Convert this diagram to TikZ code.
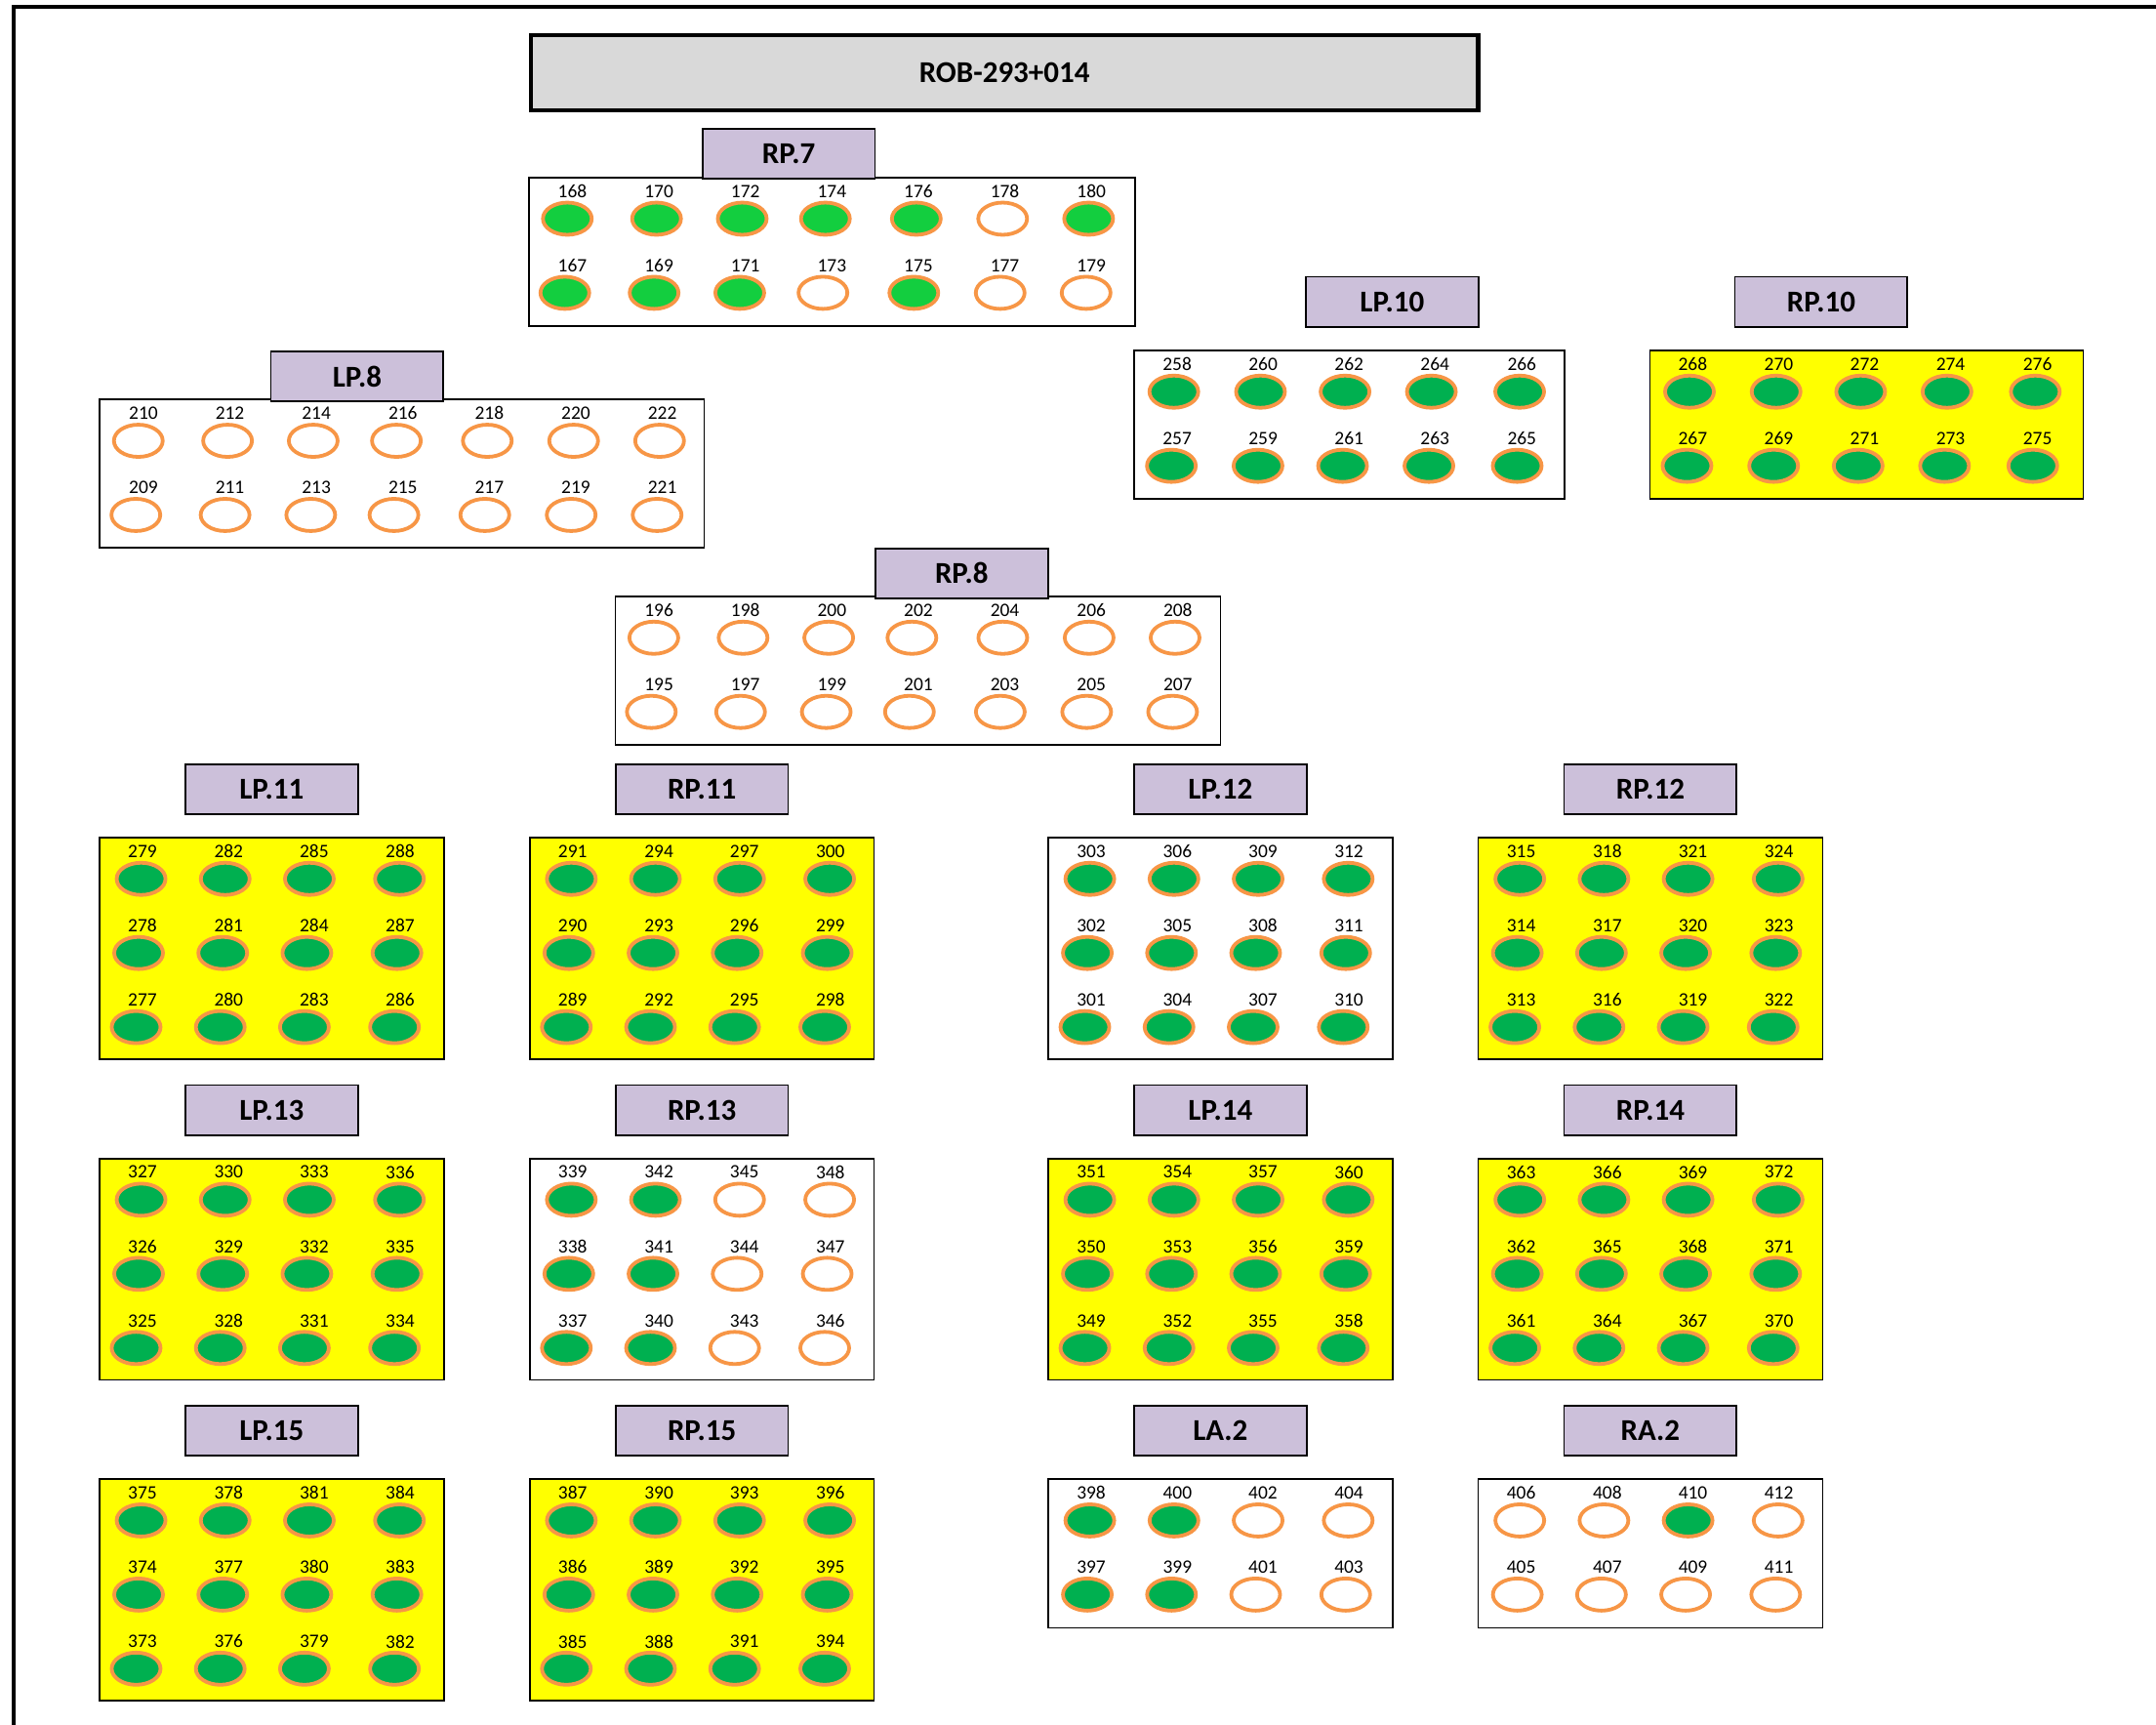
\documentclass[tikz,border=0pt]{standalone}
\usepackage{fontspec}
\setmainfont{Carlito}
\usetikzlibrary{shapes.geometric}
\definecolor{grn}{HTML}{00B050}
\definecolor{brg}{HTML}{13CE3F}
\definecolor{org}{HTML}{F79646}
\definecolor{lav}{HTML}{CCC0DA}
\definecolor{ttl}{HTML}{D9D9D9}
\definecolor{ylw}{HTML}{FFFF00}

\newcommand\offS{31.7/28,94.6/92.9,157.5/155.2,220.4/215.7,283.3/281.8,346.2/344.6,409.1/407.1}
\newcommand\offF{31.1/28.7,93.6/91.7,156.1/153.2,218.6/216,281.8/280.2}
\newcommand\offQ{31.3/30.3,94/91.5,156.2/152.7,218.7/218.2}

% #1 panel left, #2 panel top, #3 row index, #4 first number, #5 step, #6 offsets, #7 states
\newcommand\cellrow[7]{%
  \foreach \ld/\cd [count=\i from 0] in #6 {%
    \pgfmathtruncatemacro\num{#4+#5*\i}%
    \pgfmathtruncatemacro\cc{{#7}[\i]}%
    \edef\fc{\ifcase\cc white\or grn\or brg\fi}%
    \node[numtxt] (t\num) at ({#1+\ld},{#2+10+54*#3}) {\num};
    \node[hole, fill=\fc] (c\num) at ({#1+\cd-1.8*#3},{#2+30+53.9*#3}) {};
  }%
}
% name, L, T, W, H, fill
\newcommand\panelbox[6]{%
  \node[pnl, fill=#6, minimum width=#4, minimum height=#5, anchor=north west] (#1) at ({#2},{#3}) {};}
% name, cx, top, text
\newcommand\tagbox[4]{%
  \node[tagsty, anchor=north] (#1) at ({#2},{#3}) {#4};}
% name, L, T, H, fill, text
\newcommand\qgroup[6]{%
  \panelbox{p#1}{#2}{#3}{250.5}{#4}{#5}%
  \tagbox{g#1}{#2+125.25}{#3-54}{#6}}

\begin{document}
\begin{tikzpicture}[x=1pt,y=-1pt,
  pnl/.style={draw=black, line width=1.2pt, inner sep=0pt, outer sep=0pt},
  tagsty/.style={draw=black, line width=1.3pt, fill=lav, minimum width=125.5pt, minimum height=36.3pt, inner sep=0pt, font=\fontsize{22}{26}\selectfont\bfseries},
  numtxt/.style={inner sep=0pt, font=\fontsize{13.8}{16}\selectfont},
  hole/.style={ellipse, draw=org, line width=2.7pt, minimum width=35.5pt, minimum height=23.4pt, inner sep=0pt},
  ttlbox/.style={draw=black, line width=3pt, fill=ttl, anchor=north west, minimum width=689pt, minimum height=54.5pt, inner sep=0pt, font=\fontsize{22}{26}\selectfont\bfseries}]
\useasboundingbox (0,0) rectangle (1568,1254);

% outer frame
\coordinate (fr1) at (1568,5);
\coordinate (fr2) at (10,5);
\coordinate (fr3) at (10,1254);
\draw[line width=3pt] (fr1) -- (fr2) -- (fr3);

% title
\node[ttlbox] (title) at (384.5,24) {ROB-293+014};

% RP.7
\panelbox{pRP7}{384.6}{129}{441.1}{108.3}{white}
\tagbox{gRP7}{573.6}{92.8}{RP.7}
\cellrow{384.6}{129}{0}{168}{2}{\offS}{2,2,2,2,2,0,2}
\cellrow{384.6}{129}{1}{167}{2}{\offS}{2,2,2,0,2,0,0}

% LP.8
\panelbox{pLP8}{72.6}{290.5}{439.6}{107.5}{white}
\tagbox{gLP8}{259.75}{254.8}{LP.8}
\cellrow{72.6}{290.5}{0}{210}{2}{\offS}{0,0,0,0,0,0,0}
\cellrow{72.6}{290.5}{1}{209}{2}{\offS}{0,0,0,0,0,0,0}

% LP.10
\panelbox{pLP10}{825}{254.8}{312.7}{107.9}{white}
\tagbox{gLP10}{1012.5}{200.6}{LP.10}
\cellrow{825}{254.8}{0}{258}{2}{\offF}{1,1,1,1,1}
\cellrow{825}{254.8}{1}{257}{2}{\offF}{1,1,1,1,1}

% RP.10
\panelbox{pRP10}{1200}{254.8}{315}{107.9}{ylw}
\tagbox{gRP10}{1324.5}{200.6}{RP.10}
\cellrow{1200}{254.8}{0}{268}{2}{\offF}{1,1,1,1,1}
\cellrow{1200}{254.8}{1}{267}{2}{\offF}{1,1,1,1,1}

% RP.8
\panelbox{pRP8}{447.5}{433.7}{440.1}{108.1}{white}
\tagbox{gRP8}{699.35}{398}{RP.8}
\cellrow{447.5}{433.7}{0}{196}{2}{\offS}{0,0,0,0,0,0,0}
\cellrow{447.5}{433.7}{1}{195}{2}{\offS}{0,0,0,0,0,0,0}

% row A
\qgroup{LP11}{72.3}{609}{161}{ylw}{LP.11}
\cellrow{72.3}{609}{0}{279}{3}{\offQ}{1,1,1,1}
\cellrow{72.3}{609}{1}{278}{3}{\offQ}{1,1,1,1}
\cellrow{72.3}{609}{2}{277}{3}{\offQ}{1,1,1,1}

\qgroup{RP11}{385.2}{609}{161}{ylw}{RP.11}
\cellrow{385.2}{609}{0}{291}{3}{\offQ}{1,1,1,1}
\cellrow{385.2}{609}{1}{290}{3}{\offQ}{1,1,1,1}
\cellrow{385.2}{609}{2}{289}{3}{\offQ}{1,1,1,1}

\qgroup{LP12}{762.3}{609}{161}{white}{LP.12}
\cellrow{762.3}{609}{0}{303}{3}{\offQ}{1,1,1,1}
\cellrow{762.3}{609}{1}{302}{3}{\offQ}{1,1,1,1}
\cellrow{762.3}{609}{2}{301}{3}{\offQ}{1,1,1,1}

\qgroup{RP12}{1075}{609}{161}{ylw}{RP.12}
\cellrow{1075}{609}{0}{315}{3}{\offQ}{1,1,1,1}
\cellrow{1075}{609}{1}{314}{3}{\offQ}{1,1,1,1}
\cellrow{1075}{609}{2}{313}{3}{\offQ}{1,1,1,1}

% row B
\qgroup{LP13}{72.3}{842.3}{161}{ylw}{LP.13}
\cellrow{72.3}{842.3}{0}{327}{3}{\offQ}{1,1,1,1}
\cellrow{72.3}{842.3}{1}{326}{3}{\offQ}{1,1,1,1}
\cellrow{72.3}{842.3}{2}{325}{3}{\offQ}{1,1,1,1}

\qgroup{RP13}{385.2}{842.3}{161}{white}{RP.13}
\cellrow{385.2}{842.3}{0}{339}{3}{\offQ}{1,1,0,0}
\cellrow{385.2}{842.3}{1}{338}{3}{\offQ}{1,1,0,0}
\cellrow{385.2}{842.3}{2}{337}{3}{\offQ}{1,1,0,0}

\qgroup{LP14}{762.3}{842.3}{161}{ylw}{LP.14}
\cellrow{762.3}{842.3}{0}{351}{3}{\offQ}{1,1,1,1}
\cellrow{762.3}{842.3}{1}{350}{3}{\offQ}{1,1,1,1}
\cellrow{762.3}{842.3}{2}{349}{3}{\offQ}{1,1,1,1}

\qgroup{RP14}{1075}{842.3}{161}{ylw}{RP.14}
\cellrow{1075}{842.3}{0}{363}{3}{\offQ}{1,1,1,1}
\cellrow{1075}{842.3}{1}{362}{3}{\offQ}{1,1,1,1}
\cellrow{1075}{842.3}{2}{361}{3}{\offQ}{1,1,1,1}

% row C
\qgroup{LP15}{72.3}{1075.5}{161}{ylw}{LP.15}
\cellrow{72.3}{1075.5}{0}{375}{3}{\offQ}{1,1,1,1}
\cellrow{72.3}{1075.5}{1}{374}{3}{\offQ}{1,1,1,1}
\cellrow{72.3}{1075.5}{2}{373}{3}{\offQ}{1,1,1,1}

\qgroup{RP15}{385.2}{1075.5}{161}{ylw}{RP.15}
\cellrow{385.2}{1075.5}{0}{387}{3}{\offQ}{1,1,1,1}
\cellrow{385.2}{1075.5}{1}{386}{3}{\offQ}{1,1,1,1}
\cellrow{385.2}{1075.5}{2}{385}{3}{\offQ}{1,1,1,1}

\qgroup{LA2}{762.3}{1075.5}{108}{white}{LA.2}
\cellrow{762.3}{1075.5}{0}{398}{2}{\offQ}{1,1,0,0}
\cellrow{762.3}{1075.5}{1}{397}{2}{\offQ}{1,1,0,0}

\qgroup{RA2}{1075}{1075.5}{108}{white}{RA.2}
\cellrow{1075}{1075.5}{0}{406}{2}{\offQ}{0,0,1,0}
\cellrow{1075}{1075.5}{1}{405}{2}{\offQ}{0,0,0,0}
\end{tikzpicture}
\end{document}
